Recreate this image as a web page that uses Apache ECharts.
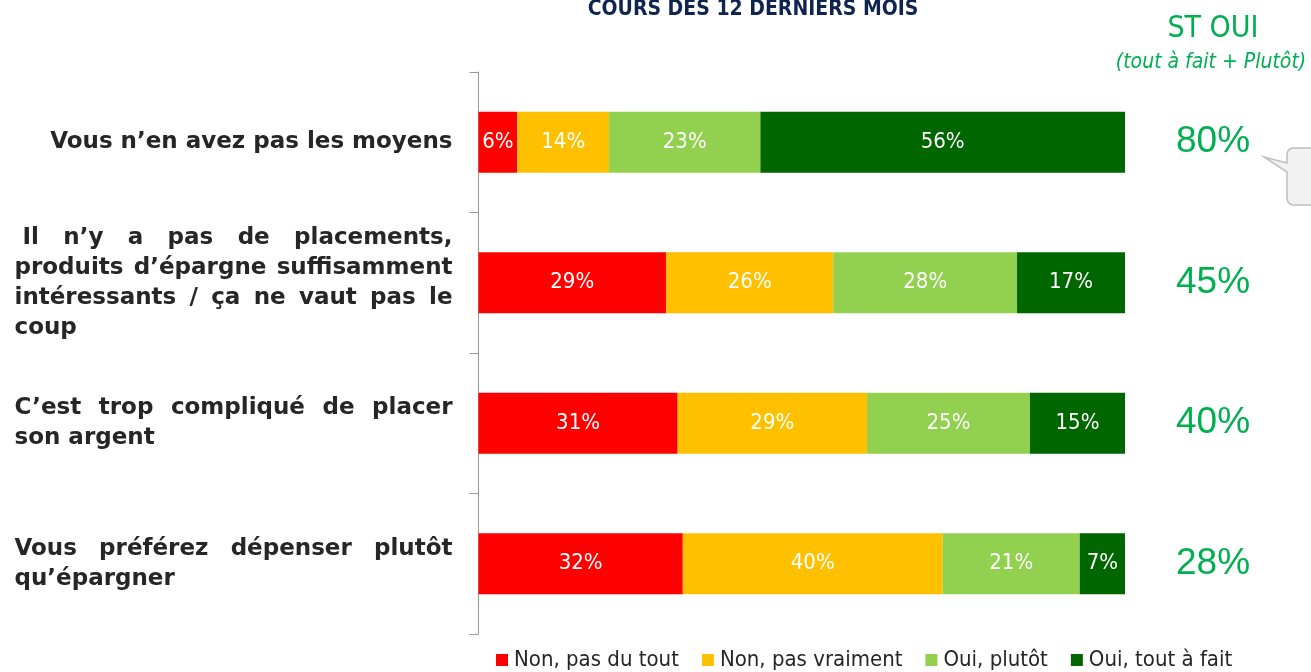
<!DOCTYPE html>
<html>
<head>
<meta charset="utf-8">
<script src="https://cdn.jsdelivr.net/npm/echarts@6/dist/echarts.min.js"></script>
<style>
html,body{margin:0;padding:0;background:#fff;}
#chart{width:1311px;height:672px;}
</style>
</head>
<body>
<div id="chart"></div>
<script>
// ---- Data ----
var categories = [
  'Vous n\u2019en avez pas les moyens',
  ' Il n\u2019y a pas de placements,\nproduits d\u2019\u00e9pargne suffisamment\nint\u00e9ressants / \u00e7a ne vaut pas le\ncoup',
  'C\u2019est trop compliqu\u00e9 de placer\nson argent',
  'Vous pr\u00e9f\u00e9rez d\u00e9penser plut\u00f4t\nqu\u2019\u00e9pargner'
];
var seriesNames = ['Non, pas du tout', 'Non, pas vraiment', 'Oui, plut\u00f4t', 'Oui, tout \u00e0 fait'];
var nonPasDuTout  = [6.0, 29.0, 30.8, 31.6];
var nonPasVraiment = [14.2, 25.9, 29.3, 40.2];
var ouiPlutot     = [23.4, 28.4, 25.2, 21.2];
var ouiToutAFait  = [56.4, 16.7, 14.7, 7.0];
var stOui = [80, 45, 40, 28];
var colors = ['#FF0000', '#FFC000', '#92D050', '#006600'];
var titleText = 'COURS DES 12 DERNIERS MOIS';
var stOuiTitle = 'ST OUI';
var stOuiSub = '(tout \u00e0 fait + Plut\u00f4t)';

var narrow = "'Liberation Sans Narrow', 'DejaVu Sans Condensed', 'Roboto', sans-serif";
var catFont = "'DejaVu Sans', Verdana, sans-serif";
var catSize = 23;
var catBoxWidth = 438;
var catColor = '#262626';

// ---- Justified category labels built with rich text tokens ----
var measureCtx = document.createElement('canvas').getContext('2d');
measureCtx.font = 'bold ' + catSize + 'px ' + catFont;
var baseRich = {fontFamily: catFont, fontWeight: 'bold', fontSize: catSize, lineHeight: 30, color: catColor};
function mk(extra) { var o = {}; for (var k in baseRich) o[k] = baseRich[k]; for (var k2 in extra) o[k2] = extra[k2]; return o; }
var richStyles = {l: mk({align: 'left'}), r: mk({align: 'right'})};
var catLabelText = categories.map(function (cat, ci) {
  var lines = cat.split('\n');
  if (lines.length === 1) return '{r|' + cat + '}';
  return lines.map(function (line, li) {
    if (li === lines.length - 1) return '{l|' + line + '}';
    var lead = line.match(/^\s*/)[0];
    var words = line.trim().split(/\s+/);
    words[0] = lead + words[0];
    var widths = words.map(function (w) { return measureCtx.measureText(w).width; });
    var total = widths.reduce(function (a, b) { return a + b; }, 0);
    var gap = (catBoxWidth - total) / (words.length - 1);
    return words.map(function (w, wi) {
      var name = 'w' + ci + '_' + li + '_' + wi;
      if (wi === words.length - 1) {
        richStyles[name] = mk({align: 'left'});
      } else {
        richStyles[name] = mk({align: 'left', width: widths[wi] + gap});
      }
      return '{' + name + '|' + w + '}';
    }).join('');
  }).join('\n');
});

var chart = echarts.init(document.getElementById('chart'), null, {renderer: 'canvas'});

var allSeries = [nonPasDuTout, nonPasVraiment, ouiPlutot, ouiToutAFait].map(function (vals, i) {
  return {
    name: seriesNames[i],
    type: 'bar',
    stack: 'total',
    barWidth: 61,
    data: vals,
    itemStyle: {color: colors[i]},
    label: {
      show: true,
      position: 'inside',
      color: '#ffffff',
      fontFamily: narrow,
      fontSize: 22,
      formatter: function (p) { return Math.round(p.value) + '%'; }
    }
  };
});

var option = {
  animation: false,
  backgroundColor: '#ffffff',
  title: [{
    text: titleText,
    left: 748, top: -6, textAlign: 'center',
    textStyle: {color: '#0F2550', fontFamily: narrow, fontWeight: 'bold', fontSize: 21}
  }, {
    text: stOuiTitle,
    left: 1208, top: 9, textAlign: 'center',
    textStyle: {color: '#00B050', fontFamily: narrow, fontWeight: 'normal', fontSize: 30}
  }, {
    text: stOuiSub,
    left: 1206, top: 47, textAlign: 'center',
    textStyle: {color: '#00B050', fontFamily: narrow, fontStyle: 'italic', fontWeight: 'normal', fontSize: 21}
  }],
  legend: {
    top: 649,
    left: 496,
    padding: 0,
    itemWidth: 12,
    itemHeight: 12,
    itemGap: 23,
    icon: 'rect',
    textStyle: {color: '#262626', fontFamily: narrow, fontSize: 22, padding: [0, 0, 0, 1]},
    data: seriesNames
  },
  grid: {left: 478.5, right: 186, top: 72, bottom: 38, containLabel: false},
  xAxis: {
    type: 'value', min: 0, max: 100, show: false
  },
  yAxis: [{
    type: 'category',
    data: categories,
    inverse: true,
    axisLine: {show: true, lineStyle: {color: '#9A9A9A', width: 1}},
    axisTick: {show: true, length: 9, lineStyle: {color: '#9A9A9A'}},
    axisLabel: {
      margin: 26,
      align: 'right',
      width: catBoxWidth,
      color: catColor,
      fontFamily: catFont,
      fontWeight: 'bold',
      fontSize: catSize,
      lineHeight: 30,
      formatter: function (v, i) { return catLabelText[i]; },
      rich: richStyles
    }
  }, {
    type: 'category',
    data: categories,
    inverse: true,
    position: 'right',
    axisLine: {show: false},
    axisTick: {show: false},
    axisLabel: {
      margin: 88,
      align: 'center',
      color: '#00B050',
      fontFamily: "'Liberation Sans', Arial, sans-serif",
      fontSize: 37,
      formatter: function (v, i) { return stOui[i] + '%'; }
    }
  }],
  graphic: [{
    type: 'polygon',
    shape: {
      points: [[1264, 157], [1287, 163], [1287, 154], [1288, 151], [1290, 149], [1293, 148], [1320, 148],
               [1320, 205], [1293, 205], [1290, 204], [1288, 202], [1287, 199], [1287, 172]]
    },
    style: {fill: '#F2F2F2', stroke: '#BFBFBF', lineWidth: 1.5}
  }],
  series: allSeries
};
chart.setOption(option);
</script>
</body>
</html>
